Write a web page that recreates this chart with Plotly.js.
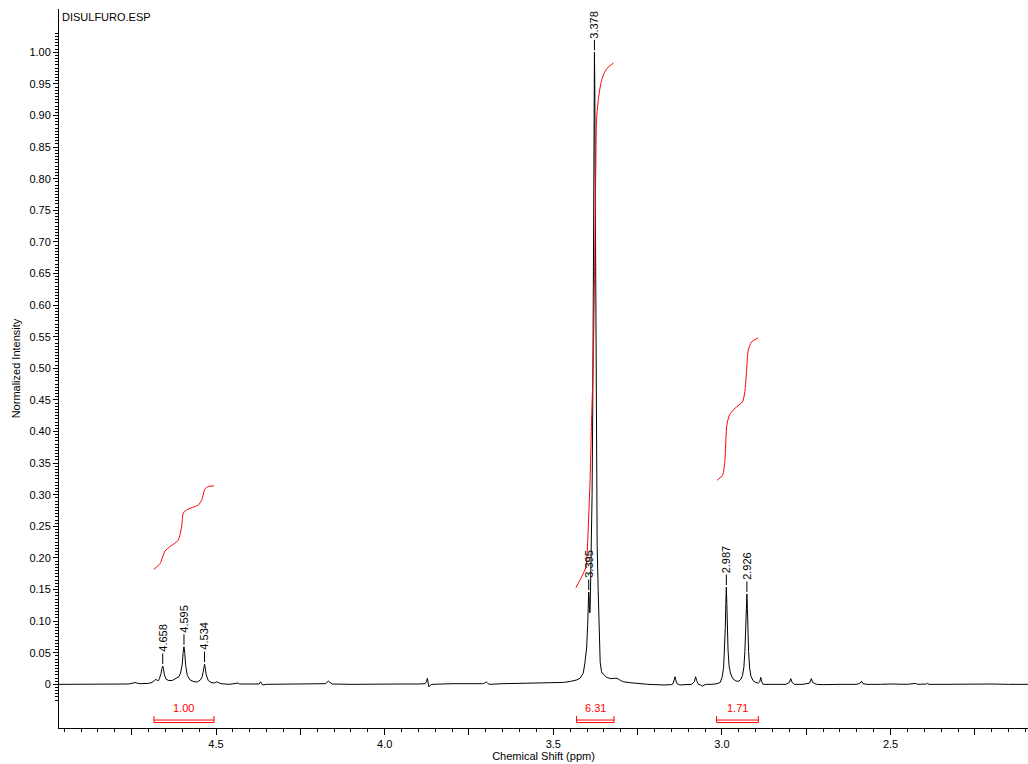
<!DOCTYPE html>
<html>
<head>
<meta charset="utf-8">
<script src="https://cdn.plot.ly/plotly-3.0.1.min.js"></script>
<style>
html,body{margin:0;padding:0;background:#fff;}
#chart{width:1028px;height:764px;}
</style>
</head>
<body>
<div id="chart"></div>
<script>
// ---- Spectrum trace: chemical shift (ppm) and normalized intensity
const shiftPpm = [
  4.967,4.90,4.85,4.80,4.76,4.745,4.740,4.735,4.725,4.70,4.69,
  4.682,4.678,4.674,4.670,
  4.668,4.663,4.6605,4.658,4.6555,4.653,4.648,4.640,4.630,4.622,
  4.616,4.610,
  4.605,4.600,4.5975,4.595,4.5925,4.590,4.585,4.577,4.565,4.555,4.546,
  4.541,4.5365,4.534,4.5315,4.529,4.523,4.515,4.505,4.498,4.494,4.485,4.46,4.44,4.435,4.43,4.40,
  4.372,4.368,4.365,4.362,4.35,4.30,4.25,4.20,4.175,4.170,4.166,4.162,4.155,4.10,4.05,4.00,3.95,3.90,
  3.880,3.876,3.8735,3.871,3.869,3.866,3.86,3.80,3.75,3.71,3.703,3.699,3.695,3.69,3.65,3.60,3.57,3.52,3.47,3.45,
  3.43,3.42,3.416,3.411,3.406,3.401,3.398,3.396,3.395,3.394,3.393,3.392,3.391,3.390,3.388,3.385,3.383,3.382,3.381,3.380,3.379,
  3.378,
  3.377,3.376,3.375,3.374,3.373,3.372,3.370,3.367,3.364,3.361,3.357,3.352,3.342,3.33,3.318,3.311,3.30,3.292,3.27,3.253,3.22,3.175,3.15,
  3.145,3.141,3.139,3.137,3.133,3.125,3.10,3.09,3.082,3.078,3.075,3.070,3.064,3.058,3.053,3.045,3.03,3.015,3.005,
  2.999,2.995,2.992,2.990,2.9885,2.987,2.9855,2.984,2.982,2.979,2.975,2.968,2.958,2.950,2.944,2.939,
  2.935,2.932,2.930,2.9275,2.926,2.9245,2.923,2.921,2.918,2.914,2.908,2.900,2.892,
  2.888,2.885,2.882,2.878,2.86,2.84,2.81,2.800,2.796,2.792,2.785,2.76,2.74,2.735,2.731,2.72,2.70,2.65,2.60,
  2.590,2.586,2.582,2.57,2.53,2.50,2.45,2.43,2.427,2.42,2.393,2.390,2.387,2.35,2.30,2.25,2.20,2.15,2.093
];
const intensity = [
  0.000,0.000,0.0005,0.000,0.0005,0.002,0.003,0.002,0.001,0.0015,0.003,
  0.006,0.008,0.006,0.006,
  0.009,0.017,0.025,0.029,0.024,0.015,0.008,0.006,0.006,0.008,
  0.010,0.012,
  0.018,0.032,0.050,0.0595,0.049,0.030,0.014,0.007,0.004,0.004,0.007,
  0.012,0.024,0.032,0.025,0.015,0.006,0.003,0.002,0.004,0.003,0.001,0.000,0.001,0.002,0.0005,0.000,
  0.0005,0.004,0.0005,-0.001,0.000,0.0005,0.000,0.0005,0.001,0.004,0.005,0.003,0.0005,0.000,0.0005,0.0005,0.0005,0.0005,
  0.001,0.004,0.0095,0.002,-0.004,-0.002,0.000,0.001,0.0005,0.001,0.002,0.004,0.002,0.000,0.001,0.0015,0.0016,0.002,0.003,0.0045,
  0.007,0.010,0.013,0.018,0.035,0.059,0.095,0.130,0.146,0.140,0.125,0.113,0.115,0.140,0.190,0.300,0.440,0.550,0.680,0.830,0.950,
  1.000,
  0.950,0.830,0.680,0.520,0.400,0.320,0.220,0.150,0.070,0.035,0.020,0.016,0.011,0.009,0.0095,0.0095,0.006,0.004,0.0025,0.0016,0.000,-0.001,-0.0005,
  0.001,0.008,0.012,0.007,0.001,-0.001,-0.001,0.000,0.004,0.012,0.006,0.000,-0.001,-0.003,-0.001,0.000,0.000,0.001,0.003,
  0.012,0.027,0.055,0.090,0.128,0.154,0.128,0.090,0.055,0.030,0.018,0.009,0.005,0.005,0.008,0.014,
  0.027,0.052,0.085,0.120,0.143,0.120,0.085,0.052,0.026,0.013,0.006,0.003,0.002,
  0.004,0.011,0.004,0.000,0.000,-0.0005,0.000,0.003,0.009,0.003,0.000,0.000,0.002,0.009,0.003,0.000,-0.0005,0.000,0.000,
  0.002,0.005,0.001,0.000,0.000,0.0005,0.000,0.0005,0.0015,0.000,0.0005,0.002,0.000,0.000,0.0005,0.000,0.0005,0.000,0.000
];

// ---- Integral curves (red)
const integ1Ppm = [4.684,4.666,4.651,4.636,4.612,4.602,4.597,4.587,4.552,4.542,4.533,4.523,4.506];
const integ1Val = [0.182,0.191,0.211,0.218,0.228,0.249,0.271,0.276,0.284,0.292,0.309,0.313,0.314];
const integ2Ppm = [3.433,3.416,3.403,3.398,3.394,3.391,3.386,3.383,3.380,3.378,3.376,3.3745,3.3735,3.373,3.372,3.3695,3.366,3.362,3.357,3.350,3.340,3.322];
const integ2Val = [0.153,0.170,0.186,0.228,0.280,0.323,0.429,0.481,0.560,0.640,0.730,0.800,0.840,0.865,0.890,0.910,0.927,0.942,0.955,0.966,0.975,0.983];
const integ3Ppm = [3.014,2.998,2.991,2.986,2.978,2.961,2.939,2.932,2.927,2.922,2.912,2.893];
const integ3Val = [0.323,0.331,0.355,0.408,0.426,0.437,0.447,0.463,0.497,0.529,0.542,0.548];

// ---- Integration regions
const integStart = [4.684, 3.431, 3.016];
const integEnd   = [4.506, 3.320, 2.892];
const integLabel = ['1.00', '6.31', '1.71'];

// ---- Peak picks
const peakPpm    = [4.658, 4.595, 4.534, 3.395, 3.378, 2.987, 2.926];
const peakHeight = [0.029, 0.0595, 0.032, 0.146, 1.000, 0.154, 0.143];
const peakLabel  = ['4.658','4.595','4.534','3.395','3.378','2.987','2.926'];

// ---- Tick labels
const xTickVals = [4.75, 4.5, 4.25, 4.0, 3.75, 3.5, 3.25, 3.0, 2.75, 2.5, 2.25];
const xTickText = ['', '4.5', '', '4.0', '', '3.5', '', '3.0', '', '2.5', ''];
const yTickVals = [0,0.05,0.10,0.15,0.20,0.25,0.30,0.35,0.40,0.45,0.50,0.55,0.60,0.65,0.70,0.75,0.80,0.85,0.90,0.95,1.00];
const yTickText = ['0','0.05','0.10','0.15','0.20','0.25','0.30','0.35','0.40','0.45','0.50','0.55','0.60','0.65','0.70','0.75','0.80','0.85','0.90','0.95','1.00'];

const FONT = 'Liberation Sans, Arial, sans-serif';
const RED = '#ff0000';

// minor y ticks (axis ruler)
const yMinor = [];
for (let k = -5; k <= 206; k++) yMinor.push(+(k * 0.005).toFixed(3));

const traces = [];
traces.push({
  x: shiftPpm, y: intensity, type: 'scatter', mode: 'lines',
  line: {color: '#000', width: 1}, hoverinfo: 'skip', showlegend: false
});
[[integ1Ppm, integ1Val], [integ2Ppm, integ2Val], [integ3Ppm, integ3Val]].forEach(([xs, ys]) => {
  traces.push({
    x: xs, y: ys, type: 'scatter', mode: 'lines', line: {color: RED, width: 1, shape: 'spline', smoothing: 0.6},
    hoverinfo: 'skip', showlegend: false
  });
});

// integration brackets
const bTop = -0.050, bMid = -0.0565, bBot = -0.0605;
const annotations = [];
for (let i = 0; i < integStart.length; i++) {
  const a = integStart[i], b = integEnd[i];
  traces.push({
    x: [a, a, b, b, null, a, b], y: [bTop, bBot, bBot, bTop, null, bMid, bMid],
    type: 'scatter', mode: 'lines', line: {color: RED, width: 1},
    hoverinfo: 'skip', showlegend: false, cliponaxis: false
  });
  annotations.push({
    x: (a + b) / 2, y: -0.037, xref: 'x', yref: 'y', text: integLabel[i],
    showarrow: false, font: {family: FONT, size: 11, color: RED}, yanchor: 'middle'
  });
}

// peak labels
for (let i = 0; i < peakPpm.length; i++) {
  annotations.push({
    x: peakPpm[i], y: peakHeight[i], xref: 'x', yref: 'y', text: peakLabel[i],
    textangle: -90, showarrow: true, arrowhead: 0, arrowwidth: 1, arrowcolor: '#000',
    ax: 0, ay: -28, standoff: 2, font: {family: FONT, size: 11, color: '#000'}
  });
}

// file name
annotations.push({
  x: 0, y: 1, xref: 'paper', yref: 'paper', xanchor: 'left', yanchor: 'top',
  xshift: 1, yshift: 0, text: 'DISULFURO.ESP', showarrow: false,
  font: {family: FONT, size: 11, color: '#000'}
});

const layout = {
  width: 1028, height: 764,
  margin: {l: 59, r: 0, t: 9, b: 36, pad: 0},
  paper_bgcolor: '#fff', plot_bgcolor: '#fff',
  font: {family: FONT, size: 11, color: '#000'},
  showlegend: false,
  xaxis: {
    range: [4.9655, 2.0926], autorange: false,
    showline: true, linecolor: '#000', linewidth: 1,
    showgrid: false, zeroline: false,
    tickmode: 'array', tickvals: xTickVals, ticktext: xTickText,
    ticks: 'outside', ticklen: 6, tickwidth: 1, tickcolor: '#000',
    tickfont: {family: FONT, size: 11, color: '#000'},
    minor: {dtick: 0.05, tick0: 0, ticks: 'outside', ticklen: 3, tickwidth: 1, tickcolor: '#000', showgrid: false},
    title: {text: 'Chemical Shift (ppm)', font: {family: FONT, size: 11, color: '#000'}, standoff: 2}
  },
  yaxis: {
    range: [-0.0691, 1.0685], autorange: false,
    showline: true, linecolor: '#000', linewidth: 1,
    showgrid: false, zeroline: false,
    tickmode: 'array', tickvals: yTickVals, ticktext: yTickText,
    ticks: 'outside', ticklen: 5, tickwidth: 1, tickcolor: '#000',
    tickfont: {family: FONT, size: 11, color: '#000'},
    minor: {tickmode: 'array', tickvals: yMinor, ticks: 'outside', ticklen: 3, tickwidth: 1, tickcolor: '#000', showgrid: false},
    title: {text: 'Normalized Intensity', font: {family: FONT, size: 11, color: '#000'}, standoff: 6}
  },
  annotations: annotations
};

Plotly.newPlot('chart', traces, layout, {displayModeBar: false, staticPlot: true});
</script>
</body>
</html>
